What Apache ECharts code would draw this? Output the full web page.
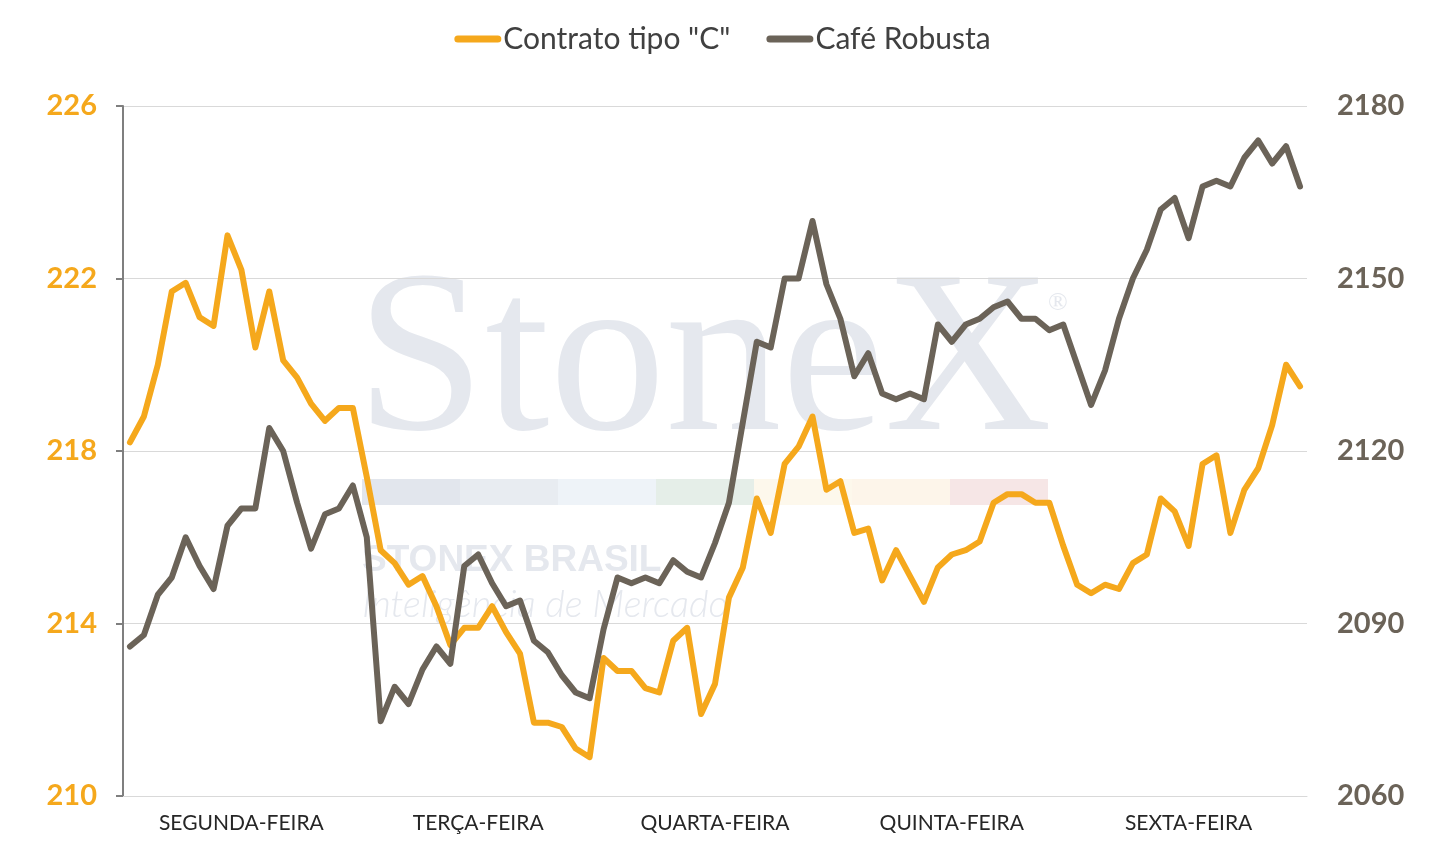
<!DOCTYPE html>
<html>
<head>
<meta charset="utf-8">
<title>Contrato tipo "C" x Café Robusta</title>
<script src="https://cdn.jsdelivr.net/npm/echarts@6/dist/echarts.min.js"></script>
<style>
  html, body { margin: 0; padding: 0; background: #fff; }
  #chart { width: 1445px; height: 863px; }
</style>
</head>
<body>
<div id="chart"></div>
<script>
// dias da semana, 17 leituras por dia
var days = ['SEGUNDA-FEIRA', 'TERÇA-FEIRA', 'QUARTA-FEIRA', 'QUINTA-FEIRA', 'SEXTA-FEIRA'];
var perDay = 17;

// Contrato tipo "C" (eixo esquerdo)
var arabica = [
  218.2, 218.8, 220.0, 221.7, 221.9, 221.1, 220.9, 223.0, 222.2, 220.4, 221.7, 220.1, 219.7, 219.1, 218.7, 219.0, 219.0,
  217.4, 215.7, 215.4, 214.9, 215.1, 214.4, 213.5, 213.9, 213.9, 214.4, 213.8, 213.3, 211.7, 211.7, 211.6, 211.1,
  210.9, 213.2, 212.9, 212.9, 212.5, 212.4, 213.6, 213.9, 211.9, 212.6, 214.6, 215.3, 216.9, 216.1, 217.7, 218.1,
  218.8, 217.1, 217.3, 216.1, 216.2, 215.0, 215.7, 215.1, 214.5, 215.3, 215.6, 215.7, 215.9, 216.8, 217.0, 217.0,
  216.8, 216.8, 215.8, 214.9, 214.7, 214.9, 214.8, 215.4, 215.6, 216.9, 216.6, 215.8, 217.7, 217.9, 216.1, 217.1,
  217.6, 218.6, 220.0, 219.5
];

// Café Robusta (eixo direito)
var robusta = [
  2086, 2088, 2095, 2098, 2105, 2100, 2096, 2107, 2110, 2110, 2124, 2120, 2111, 2103, 2109, 2110, 2114,
  2105, 2073, 2079, 2076, 2082, 2086, 2083, 2100, 2102, 2097, 2093, 2094, 2087, 2085, 2081, 2078,
  2077, 2089, 2098, 2097, 2098, 2097, 2101, 2099, 2098, 2104, 2111, 2125, 2139, 2138, 2150, 2150,
  2160, 2149, 2143, 2133, 2137, 2130, 2129, 2130, 2129, 2142, 2139, 2142, 2143, 2145, 2146, 2143,
  2143, 2141, 2142, 2135, 2128, 2134, 2143, 2150, 2155, 2162, 2164, 2157, 2166, 2167, 2166, 2171,
  2174, 2170, 2173, 2166
];

var categories = arabica.map(function (v, i) { return String(i); });

var orange = '#F5A81C';
var brown = '#6B6358';
var mark = '#E5E8EE';
var stripe = ['#E2E6ED', '#E8ECF1', '#EEF3F8', '#E5EEE8', '#FDF8EC', '#FDF5EA', '#F6E6E6'];

var chart = echarts.init(document.getElementById('chart'));

// marca d'água
var wm = [
  { type: 'text', left: 356, top: 252, z: 0, silent: true,
    style: { text: 'StoneX', font: '232px "Liberation Serif"', fill: mark } },
  { type: 'text', left: 1048, top: 290, z: 0, silent: true,
    style: { text: '®', font: '26px "Liberation Serif"', fill: mark } },
  { type: 'text', left: 362, top: 542, z: 0, silent: true,
    style: { text: 'STONEX BRASIL', font: 'bold 37px "Liberation Sans"', fill: mark } },
  { type: 'text', left: 362, top: 586, z: 0, silent: true,
    style: { text: 'Inteligência de Mercado', font: 'italic 300 38px Lato', fill: mark } }
];
stripe.forEach(function (c, k) {
  wm.push({ type: 'rect', z: 0, silent: true,
    shape: { x: 362 + k * 98, y: 479, width: 98, height: 26 }, style: { fill: c } });
});

option = {
  animation: false,
  textStyle: { fontFamily: 'Lato' },
  legend: {
    top: 19,
    left: 'center',
    itemWidth: 47,
    itemHeight: 7,
    itemGap: 36,
    icon: 'path://M3.5,0 H43.5 A3.5,3.5 0 0 1 43.5,7 H3.5 A3.5,3.5 0 0 1 3.5,0 Z',
    textStyle: { fontSize: 30, color: '#404040', padding: [0, 0, 0, -3] },
    data: ['Contrato tipo "C"', 'Café Robusta']
  },
  grid: { left: 123, right: 138, top: 106, bottom: 67 },
  graphic: wm,
  xAxis: {
    type: 'category',
    data: categories,
    boundaryGap: true,
    axisLine: { lineStyle: { color: '#D9D9D9', width: 1 } },
    axisTick: { show: false },
    axisLabel: {
      interval: function (i) { return i % perDay === 8; },
      formatter: function (v, i) { return days[Math.floor(i / perDay)]; },
      fontSize: 21,
      color: '#262626',
      margin: 17
    }
  },
  yAxis: [
    {
      type: 'value',
      min: 210, max: 226, interval: 4,
      axisLine: { show: true, lineStyle: { color: '#7F7F7F', width: 2 } },
      axisTick: { show: true, length: 7, lineStyle: { color: '#7F7F7F', width: 2 } },
      axisLabel: { color: orange, fontSize: 29, fontWeight: 'bold', margin: 26 },
      splitLine: { lineStyle: { color: '#D9D9D9', width: 1 } }
    },
    {
      type: 'value',
      min: 2060, max: 2180, interval: 30,
      axisLine: { show: false },
      axisTick: { show: false },
      axisLabel: {
        color: brown, fontSize: 29, fontWeight: 'bold', margin: 30,
        formatter: function (v) { return String(v); }
      },
      splitLine: { show: false }
    }
  ],
  series: [
    {
      name: 'Contrato tipo "C"',
      type: 'line',
      yAxisIndex: 0,
      data: arabica,
      showSymbol: false,
      z: 3,
      itemStyle: { color: orange },
      lineStyle: { color: orange, width: 6, join: 'round', cap: 'round' }
    },
    {
      name: 'Café Robusta',
      type: 'line',
      yAxisIndex: 1,
      data: robusta,
      showSymbol: false,
      z: 4,
      itemStyle: { color: brown },
      lineStyle: { color: brown, width: 6, join: 'round', cap: 'round' }
    }
  ]
};

chart.setOption(option);
</script>
</body>
</html>
